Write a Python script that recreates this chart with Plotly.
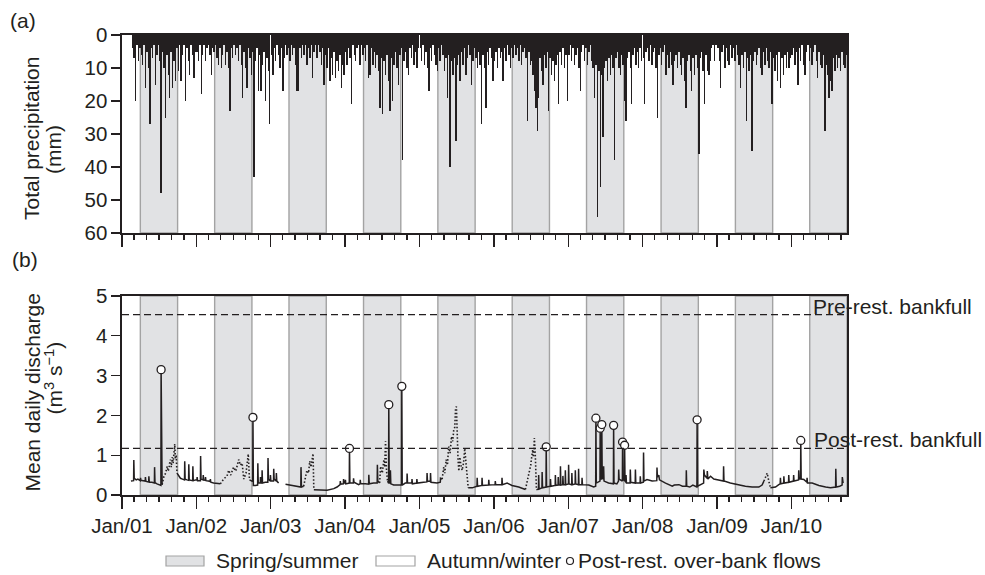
import plotly.graph_objects as go
import pandas as pd

# ---------------- DATA ----------------
# Weekly precipitation (mm), week i starts Jan 1 + 7*i days
precip_2001 = [None, None, None, None, None, None, None, 4, 7, 20, 3, 8, 4, 6, 9, 3, 16, 5, 10, 27, 4, 7, 3, 15, 6, 3,
               8, 48, 5, 10, 25, 6, 12, 19, 5, 16, 8, 14, 4, 11, 3, 14, 6, 3, 20, 4, 8, 12, 3, 6, 13, 5]
precip_2002 = [5, 8, 3, 18, 6, 3, 8, 4, 3, 6, 12, 4, 5, 3, 7, 9, 4, 10, 6, 3, 9, 5, 10, 23, 4, 7,
               3, 6, 4, 8, 3, 9, 19, 5, 10, 16, 4, 7, 12, 5, 43, 8, 4, 17, 6, 17, 9, 5, 20, 7, 11, 27]
precip_2003 = [6, 12, 4, 8, 3, 6, 10, 4, 17, 7, 3, 6, 4, 8, 3, 6, 4, 9, 17, 17, 4, 7, 3, 6, 3, 9,
               4, 7, 3, 13, 5, 3, 7, 3, 5, 9, 4, 15, 6, 10, 4, 14, 7, 12, 5, 13, 8, 11, 6, 16, 9, 12]
precip_2004 = [5, 9, 4, 7, 21, 3, 6, 8, 4, 3, 9, 3, 6, 4, 8, 3, 13, 12, 4, 9, 5, 10, 6, 11, 22, 7,
               24, 8, 12, 6, 14, 23, 7, 20, 9, 5, 10, 15, 6, 4, 38, 8, 5, 10, 12, 4, 7, 3, 9, 5, 10, 4]
precip_2005 = [4, 8, 3, 9, 5, 10, 17, 4, 8, 3, 6, 9, 11, 4, 8, 3, 6, 11, 7, 19, 6, 40, 8, 12, 7, 32,
               9, 6, 14, 5, 9, 4, 12, 7, 3, 6, 15, 8, 4, 7, 10, 5, 9, 27, 6, 10, 22, 5, 9, 4, 7, 14]
precip_2006 = [8, 5, 10, 4, 7, 5, 14, 4, 8, 3, 6, 10, 4, 7, 3, 6, 4, 8, 3, 9, 5, 4, 7, 26, 5, 9,
               8, 12, 17, 22, 29, 19, 7, 11, 15, 6, 10, 5, 23, 7, 12, 8, 14, 9, 6, 21, 5, 9, 4, 10, 6, 20]
precip_2007 = [6, 3, 8, 4, 9, 6, 4, 10, 17, 5, 3, 8, 4, 9, 5, 3, 8, 10, 19, 9, 55, 11, 46, 12, 31, 10,
               8, 14, 7, 12, 6, 10, 38, 7, 5, 10, 12, 6, 9, 20, 26, 7, 5, 10, 21, 6, 4, 9, 5, 10, 4, 8]
precip_2008 = [7, 21, 5, 4, 8, 3, 9, 5, 4, 10, 25, 6, 4, 9, 5, 3, 12, 6, 10, 5, 9, 15, 8, 6, 10, 5,
               9, 12, 7, 14, 22, 8, 6, 11, 17, 7, 12, 6, 10, 36, 7, 5, 11, 21, 6, 11, 12, 8, 4, 3, 8, 3]
precip_2009 = [4, 8, 16, 5, 3, 10, 4, 8, 9, 3, 7, 4, 8, 3, 6, 9, 16, 6, 10, 5, 26, 7, 11, 6, 35, 8,
               5, 9, 6, 4, 10, 12, 5, 9, 4, 8, 10, 5, 21, 7, 11, 6, 14, 5, 16, 7, 12, 6, 10, 5, 10, 7]
precip_2010 = [6, 4, 9, 5, 15, 4, 8, 3, 9, 12, 5, 3, 8, 4, 9, 5, 3, 8, 13, 5, 9, 10, 6, 29, 9, 12,
               19, 14, 17, 7, 11, 6, 10, 7, 11, 5, 9, 10, 6]
precip_years = [2001, 2002, 2003, 2004, 2005, 2006, 2007, 2008, 2009, 2010]

# Measured mean daily discharge (date, m3/s); (None, None) marks a gap in the record
q_obs = [
    ("2001-02-14", 0.35), ("2001-02-26", 0.37), ("2001-02-27", 0.36), ("2001-02-28", 0.88), ("2001-03-02", 0.42),
    ("2001-03-12", 0.38), ("2001-03-20", 0.40), ("2001-04-01", 0.36), ("2001-04-02", 0.43), ("2001-04-04", 0.37),
    ("2001-04-15", 0.36), ("2001-04-25", 0.35), ("2001-04-26", 0.45), ("2001-04-28", 0.35), ("2001-05-05", 0.33),
    ("2001-05-12", 0.33), ("2001-05-13", 0.47), ("2001-05-15", 0.32), ("2001-05-28", 0.32), ("2001-06-09", 0.30),
    ("2001-06-10", 0.70), ("2001-06-12", 0.31), ("2001-06-22", 0.28), ("2001-07-05", 0.25), ("2001-07-11", 0.24),
    ("2001-07-12", 3.15), ("2001-07-14", 0.30), ("2001-07-17", 0.26), (None, None),
    ("2001-09-28", 0.55), ("2001-10-06", 0.50), ("2001-10-15", 0.42), ("2001-10-25", 0.40), ("2001-11-04", 0.38),
    ("2001-11-05", 0.85), ("2001-11-07", 0.40), ("2001-11-16", 0.38), ("2001-11-24", 0.37), ("2001-11-25", 0.77),
    ("2001-11-27", 0.38), ("2001-12-05", 0.37), ("2001-12-14", 0.36), ("2001-12-15", 0.72), ("2001-12-17", 0.36),
    ("2001-12-28", 0.38), ("2002-01-04", 0.38), ("2002-01-05", 0.45), ("2002-01-07", 0.36), ("2002-01-21", 0.36),
    ("2002-01-22", 0.98), ("2002-01-24", 0.40), ("2002-02-03", 0.38), ("2002-02-04", 0.50), ("2002-02-06", 0.38),
    ("2002-02-14", 0.37), ("2002-02-15", 0.45), ("2002-02-17", 0.36), ("2002-03-01", 0.35), ("2002-03-10", 0.34),
    ("2002-03-11", 0.40), ("2002-03-13", 0.32), ("2002-03-27", 0.30), ("2002-04-15", 0.28), ("2002-04-29", 0.28),
    (None, None),
    ("2002-09-19", 0.38), ("2002-09-28", 0.36), ("2002-10-05", 0.34), ("2002-10-06", 1.95), ("2002-10-08", 0.24),
    ("2002-10-18", 0.24), ("2002-10-29", 0.25), ("2002-10-30", 0.80), ("2002-11-01", 0.30), ("2002-11-11", 0.30),
    ("2002-11-12", 0.45), ("2002-11-14", 0.30), ("2002-11-19", 0.30), ("2002-11-20", 0.62), ("2002-11-22", 0.30),
    ("2002-12-05", 0.32), ("2002-12-18", 0.32), ("2002-12-19", 0.93), ("2002-12-21", 0.40), ("2002-12-30", 0.35),
    ("2002-12-31", 0.50), ("2003-01-02", 0.35), ("2003-01-15", 0.35), ("2003-01-16", 0.66), ("2003-01-18", 0.40),
    ("2003-01-28", 0.35), ("2003-01-29", 0.55), ("2003-01-31", 0.35), ("2003-02-09", 0.30), (None, None),
    ("2003-03-15", 0.27), ("2003-04-08", 0.25), ("2003-05-03", 0.22), ("2003-05-29", 0.20), ("2003-05-30", 0.70),
    ("2003-06-01", 0.20), ("2003-06-12", 0.22), (None, None),
    ("2003-08-01", 0.13), ("2003-09-02", 0.12), ("2003-10-05", 0.12), ("2003-11-07", 0.16), ("2003-11-23", 0.20),
    ("2003-12-08", 0.26), ("2003-12-09", 0.35), ("2003-12-11", 0.27), ("2003-12-24", 0.28), ("2003-12-25", 0.40),
    ("2003-12-27", 0.30), ("2004-01-02", 0.30), ("2004-01-03", 0.38), ("2004-01-05", 0.28), ("2004-01-22", 0.30),
    ("2004-01-23", 1.17), ("2004-01-25", 0.30), ("2004-02-11", 0.30), ("2004-02-12", 0.42), ("2004-02-14", 0.32),
    ("2004-03-08", 0.26), ("2004-03-15", 0.28), ("2004-03-16", 0.38), ("2004-03-18", 0.28), ("2004-04-10", 0.28),
    ("2004-04-26", 0.27), ("2004-04-27", 0.51), ("2004-04-29", 0.28), ("2004-05-21", 0.30), ("2004-06-07", 0.30),
    ("2004-06-08", 0.76), ("2004-06-10", 0.35), ("2004-06-19", 0.30), (None, None),
    ("2004-07-28", 0.35), ("2004-08-02", 0.30), ("2004-08-03", 2.27), ("2004-08-05", 0.30), ("2004-08-10", 0.30),
    ("2004-08-11", 0.62), ("2004-08-13", 0.28), ("2004-08-27", 0.25), ("2004-09-21", 0.24), ("2004-10-05", 0.25),
    ("2004-10-06", 2.73), ("2004-10-08", 0.25), ("2004-10-23", 0.30), ("2004-10-31", 0.30), ("2004-11-01", 0.54),
    ("2004-11-03", 0.30), ("2004-11-24", 0.30), ("2004-11-25", 0.40), ("2004-11-27", 0.28), ("2004-12-18", 0.30),
    ("2004-12-19", 0.40), ("2004-12-21", 0.30), ("2005-01-21", 0.32), ("2005-02-06", 0.33), ("2005-02-07", 0.55),
    ("2005-02-09", 0.35), ("2005-02-23", 0.34), ("2005-02-24", 0.55), ("2005-02-26", 0.32), ("2005-03-28", 0.30),
    ("2005-04-13", 0.32), ("2005-04-14", 0.42), ("2005-04-22", 0.40), (None, None),
    ("2005-08-28", 0.18), ("2005-09-17", 0.18), ("2005-10-10", 0.22), ("2005-10-11", 0.43), ("2005-10-13", 0.22),
    ("2005-11-03", 0.24), ("2005-11-04", 0.43), ("2005-11-06", 0.24), ("2005-12-06", 0.25), ("2005-12-07", 0.38),
    ("2005-12-09", 0.25), ("2006-01-07", 0.26), ("2006-01-08", 0.35), ("2006-01-10", 0.26), ("2006-02-09", 0.26),
    ("2006-02-10", 0.43), ("2006-02-12", 0.26), ("2006-03-07", 0.30), ("2006-03-31", 0.24), ("2006-05-03", 0.20),
    ("2006-06-05", 0.14), (None, None),
    ("2006-07-29", 0.13), ("2006-08-08", 0.15), ("2006-08-09", 0.50), ("2006-08-11", 0.15), ("2006-08-25", 0.18),
    ("2006-08-26", 0.58), ("2006-08-28", 0.18), ("2006-09-14", 0.20), ("2006-09-15", 1.21), ("2006-09-17", 0.20),
    ("2006-10-05", 0.22), ("2006-10-06", 0.40), ("2006-10-08", 0.22), ("2006-10-29", 0.24), ("2006-10-30", 0.50),
    ("2006-11-01", 0.24), ("2006-11-12", 0.25), ("2006-11-13", 0.45), ("2006-11-15", 0.25), ("2006-11-23", 0.25),
    ("2006-11-24", 0.72), ("2006-11-26", 0.25), ("2006-12-05", 0.26), ("2006-12-06", 0.48), ("2006-12-08", 0.26),
    ("2006-12-17", 0.26), ("2006-12-18", 0.62), ("2006-12-20", 0.26), ("2007-01-02", 0.28), ("2007-01-03", 0.76),
    ("2007-01-05", 0.28), ("2007-01-18", 0.26), ("2007-01-19", 0.55), ("2007-01-21", 0.26), ("2007-02-04", 0.28),
    ("2007-02-05", 0.62), ("2007-02-07", 0.28), ("2007-02-20", 0.26), ("2007-02-21", 0.66), ("2007-02-23", 0.26),
    ("2007-03-09", 0.26), ("2007-03-10", 0.43), ("2007-03-12", 0.26), ("2007-04-12", 0.25), ("2007-05-06", 0.20),
    ("2007-05-16", 0.22), ("2007-05-17", 1.93), ("2007-05-19", 0.30), ("2007-06-06", 0.35), ("2007-06-07", 1.68),
    ("2007-06-09", 0.40), ("2007-06-14", 0.40), ("2007-06-15", 1.77), ("2007-06-17", 0.45), ("2007-06-23", 0.40),
    ("2007-06-24", 0.72), ("2007-06-26", 0.35), ("2007-07-18", 0.30), ("2007-08-11", 0.28), ("2007-08-12", 1.75),
    ("2007-08-14", 0.30), ("2007-08-28", 0.28), ("2007-09-05", 0.35), ("2007-09-06", 0.64), ("2007-09-08", 0.40),
    ("2007-09-24", 0.35), ("2007-09-25", 1.33), ("2007-09-27", 0.40), ("2007-10-04", 0.36), ("2007-10-05", 1.25),
    ("2007-10-07", 0.35), ("2007-10-11", 0.32), ("2007-10-12", 0.50), ("2007-10-14", 0.30), ("2007-11-01", 0.30),
    ("2007-11-02", 0.64), ("2007-11-04", 0.32), ("2007-11-26", 0.30), ("2007-11-27", 0.64), ("2007-11-29", 0.30),
    ("2007-12-20", 0.30), ("2007-12-21", 0.47), ("2007-12-23", 0.30), ("2008-01-05", 0.32), ("2008-01-06", 1.07),
    ("2008-01-08", 0.35), ("2008-01-23", 0.39), ("2008-02-17", 0.35), ("2008-03-11", 0.36), ("2008-03-12", 0.69),
    ("2008-03-14", 0.45), ("2008-03-21", 0.50), ("2008-03-24", 0.38), ("2008-04-23", 0.30), ("2008-05-26", 0.22),
    ("2008-06-05", 0.25), ("2008-06-28", 0.26), ("2008-07-15", 0.22), ("2008-08-02", 0.22), ("2008-08-03", 0.62),
    ("2008-08-05", 0.22), ("2008-08-20", 0.20), ("2008-09-04", 0.25), ("2008-09-24", 0.20), ("2008-09-25", 1.89),
    ("2008-09-27", 0.22), ("2008-10-27", 0.30), ("2008-10-28", 0.64), ("2008-10-31", 0.50), ("2008-11-13", 0.42),
    ("2008-11-14", 0.60), ("2008-11-17", 0.40), ("2008-11-30", 0.47), ("2008-12-16", 0.40), ("2009-01-09", 0.38),
    ("2009-02-01", 0.35), ("2009-02-02", 0.72), ("2009-02-04", 0.35), ("2009-03-07", 0.30), ("2009-04-17", 0.25),
    ("2009-05-20", 0.22), ("2009-06-22", 0.20), ("2009-07-25", 0.20), ("2009-08-10", 0.25), ("2009-08-19", 0.35),
    (None, None),
    ("2009-09-20", 0.18), ("2009-10-15", 0.20), ("2009-10-31", 0.26), ("2009-11-07", 0.28), ("2009-11-08", 0.43),
    ("2009-11-10", 0.28), ("2009-11-24", 0.30), ("2009-11-25", 0.47), ("2009-11-27", 0.30), ("2009-12-18", 0.32),
    ("2009-12-19", 0.50), ("2009-12-21", 0.32), ("2010-01-11", 0.35), ("2010-01-12", 0.50), ("2010-01-14", 0.35),
    ("2010-02-05", 0.38), ("2010-02-06", 0.62), ("2010-02-08", 0.40), ("2010-02-15", 0.40), ("2010-02-16", 1.37),
    ("2010-02-18", 0.40), ("2010-03-03", 0.39), ("2010-03-18", 0.32), ("2010-03-19", 0.43), ("2010-03-21", 0.30),
    ("2010-04-13", 0.30), ("2010-05-16", 0.24), ("2010-06-18", 0.20), ("2010-07-12", 0.18), ("2010-08-06", 0.20),
    ("2010-08-07", 0.66), ("2010-08-09", 0.20), ("2010-08-26", 0.22), ("2010-09-07", 0.25), ("2010-09-08", 0.45),
    ("2010-09-12", 0.30),
]

# Estimated (gap-filled) discharge, drawn dotted
e_obs = [
    ("2001-07-17", 0.26), ("2001-07-25", 0.45), ("2001-08-03", 0.55), ("2001-08-11", 0.72), ("2001-08-15", 0.60),
    ("2001-08-19", 0.65), ("2001-08-23", 0.80), ("2001-08-27", 0.89), ("2001-08-31", 0.70), ("2001-09-05", 0.95),
    ("2001-09-09", 0.80), ("2001-09-13", 1.10), ("2001-09-17", 1.28), ("2001-09-20", 0.90), ("2001-09-24", 1.00),
    ("2001-09-28", 0.55), (None, None),
    ("2002-04-29", 0.28), ("2002-05-15", 0.40), ("2002-06-01", 0.48), ("2002-06-09", 0.62), ("2002-06-19", 0.50),
    ("2002-07-03", 0.70), ("2002-07-14", 0.60), ("2002-07-28", 0.89), ("2002-08-05", 0.75), ("2002-08-14", 0.80),
    ("2002-08-22", 0.40), ("2002-09-02", 0.55), ("2002-09-13", 1.03), ("2002-09-19", 0.38), (None, None),
    ("2003-06-12", 0.22), ("2003-06-21", 0.45), ("2003-06-28", 0.62), ("2003-07-06", 0.55), ("2003-07-12", 0.85),
    ("2003-07-18", 0.70), ("2003-07-28", 1.04), ("2003-08-01", 0.13), (None, None),
    ("2004-06-19", 0.30), ("2004-06-24", 0.72), ("2004-07-02", 0.55), ("2004-07-10", 0.89), ("2004-07-14", 0.70),
    ("2004-07-18", 1.35), ("2004-07-23", 0.60), ("2004-07-28", 0.35), (None, None),
    ("2005-04-22", 0.40), ("2005-04-30", 0.70), ("2005-05-05", 0.55), ("2005-05-12", 0.89), ("2005-05-18", 0.75),
    ("2005-05-24", 1.22), ("2005-05-31", 1.05), ("2005-06-07", 1.47), ("2005-06-13", 1.35), ("2005-06-18", 1.64),
    ("2005-06-23", 1.70), ("2005-06-27", 2.18), ("2005-07-01", 2.22), ("2005-07-04", 1.40), ("2005-07-09", 0.90),
    ("2005-07-13", 0.60), ("2005-07-18", 0.95), ("2005-07-23", 0.75), ("2005-07-29", 0.62), ("2005-08-05", 0.80),
    ("2005-08-11", 1.17), ("2005-08-18", 0.75), ("2005-08-23", 0.45), ("2005-08-28", 0.18), (None, None),
    ("2006-06-05", 0.14), ("2006-06-21", 0.47), ("2006-07-01", 0.75), ("2006-07-04", 0.89), ("2006-07-11", 1.14),
    ("2006-07-14", 0.95), ("2006-07-19", 1.43), ("2006-07-24", 0.93), ("2006-07-29", 0.13), (None, None),
    ("2009-08-19", 0.35), ("2009-08-27", 0.45), ("2009-09-04", 0.55), ("2009-09-12", 0.35), ("2009-09-20", 0.18),
]

# Post-restoration over-bank flows
ob_dates = ["2001-07-12", "2002-10-06", "2004-01-23", "2004-08-03", "2004-10-06", "2006-09-15", "2007-05-17",
            "2007-06-07", "2007-06-15", "2007-08-12", "2007-09-25", "2007-10-05", "2008-09-25", "2010-02-16"]
ob_vals = [3.15, 1.95, 1.17, 2.27, 2.73, 1.21, 1.93, 1.68, 1.77, 1.75, 1.33, 1.25, 1.89, 1.37]

pre_bankfull = 4.53
post_bankfull = 1.17

season_start = ["2001-04-01", "2002-04-01", "2003-04-01", "2004-04-01", "2005-04-01",
                "2006-04-01", "2007-04-01", "2008-04-01", "2009-04-01", "2010-04-01"]
season_end = ["2001-10-01", "2002-10-01", "2003-10-01", "2004-10-01", "2005-10-01",
              "2006-10-01", "2007-10-01", "2008-10-01", "2009-10-01", "2010-10-01"]

x_range = ["2001-01-01", "2010-10-01"]

# ---------------- BUILD ----------------
INK = "#231f20"
FONT = "Liberation Sans, Arial, Helvetica, sans-serif"
BAND_FILL = "#e1e2e4"
BAND_LINE = "#a3a3a3"

precip_lists = [precip_2001, precip_2002, precip_2003, precip_2004, precip_2005,
                precip_2006, precip_2007, precip_2008, precip_2009, precip_2010]
p_x, p_y = [], []
for yr, vals in zip(precip_years, precip_lists):
    start = pd.Timestamp(f"{yr}-01-01")
    for i, v in enumerate(vals):
        p_x.append(start + pd.Timedelta(days=7 * i + 3.5))
        p_y.append(v)

q_dates = [d for d, _ in q_obs]
q_vals = [v for _, v in q_obs]
e_dates = [d for d, _ in e_obs]
e_vals = [v for _, v in e_obs]

WEEK_MS = 7 * 24 * 3600 * 1000

fig = go.Figure()
fig.add_trace(go.Bar(x=p_x, y=p_y, width=WEEK_MS, marker=dict(color=INK, line=dict(width=0)),
                     xaxis="x2", yaxis="y2", showlegend=False, hoverinfo="skip"))
fig.add_trace(go.Scatter(x=e_dates, y=e_vals, mode="lines", line=dict(color=INK, width=1.6, dash="1.5px,2px"),
                         connectgaps=False, showlegend=False))
fig.add_trace(go.Scatter(x=q_dates, y=q_vals, mode="lines", line=dict(color=INK, width=1.5),
                         connectgaps=False, showlegend=False))
fig.add_trace(go.Scatter(x=ob_dates, y=ob_vals, mode="markers",
                         marker=dict(symbol="circle", size=8, color="white", line=dict(color=INK, width=1.3)),
                         showlegend=False))

shapes = []
for s, e in zip(season_start, season_end):
    for xr, yr in (("x", "y domain"), ("x2", "y2 domain")):
        shapes.append(dict(type="rect", xref=xr, yref=yr, x0=s, x1=e, y0=0, y1=1,
                           fillcolor=BAND_FILL, line=dict(color=BAND_LINE, width=1.4), layer="below"))
for lvl in (pre_bankfull, post_bankfull):
    shapes.append(dict(type="line", xref="x domain", yref="y", x0=0, x1=1, y0=lvl, y1=lvl,
                       line=dict(color=INK, width=1.3, dash="7px,4px")))

# pixel helpers for the hand-placed legend and labels
W, H_TOP, MB = 725.0, 35.0, 80.0
PH = 575 - H_TOP - MB


def px_x(px):
    return (px - 122) / W


def px_y(py):
    return (575 - MB - py) / PH


shapes.append(dict(type="rect", xref="paper", yref="paper", x0=px_x(166), x1=px_x(204), y0=px_y(566), y1=px_y(556),
                   fillcolor=BAND_FILL, line=dict(color=BAND_LINE, width=1.2)))
shapes.append(dict(type="rect", xref="paper", yref="paper", x0=px_x(376), x1=px_x(415), y0=px_y(566), y1=px_y(556),
                   fillcolor="white", line=dict(color=BAND_LINE, width=1.2)))
shapes.append(dict(type="circle", xref="paper", yref="paper", x0=px_x(566.5), x1=px_x(573.5), y0=px_y(564.5),
                   y1=px_y(557.5), fillcolor="white", line=dict(color=INK, width=1.2)))

tf = dict(family=FONT, size=21, color=INK)


def ann(text, x, y, anchor="left", angle=0):
    return dict(text=text, xref="paper", yref="paper", x=px_x(x), y=px_y(y), xanchor=anchor, yanchor="middle",
                showarrow=False, font=tf, textangle=angle)


annotations = [
    ann("Spring/summer", 214, 560),
    ann("Autumn/winter", 425, 560),
    ann("Post-rest. over-bank flows", 576, 560),
    ann("Pre-rest. bankfull", 811, 307),
    ann("Post-rest. bankfull", 812, 439),
    ann("(a)", 23, 20, "center"),
    ann("(b)", 25, 259, "center"),
    ann("Total precipitation", 31.5, 138.5, "center", -90),
    ann("(mm)", 53, 150, "center", -90),
    ann("Mean daily discharge", 31.5, 393, "center", -90),
    ann("(m<sup>3</sup> s<sup>−1</sup>)", 53, 378.5, "center", -90),
]

tickfont = dict(family=FONT, size=20.5, color=INK)
xcommon = dict(type="date", range=x_range, dtick="M12", tick0="2001-01-01", tickformat="%b/%y",
               ticks="outside", ticklen=12, tickwidth=1.4, tickcolor=INK,
               showline=True, linewidth=1.6, linecolor=INK, mirror=True, showgrid=False, zeroline=False,
               minor=dict(dtick="M2", tick0="2001-01-01", ticks="outside", ticklen=5, tickwidth=1.3,
                          tickcolor=INK, showgrid=False))
ycommon = dict(ticks="outside", ticklen=9, tickwidth=1.4, tickcolor=INK, showline=True, linewidth=1.6,
               linecolor=INK, mirror=True, showgrid=False, zeroline=False, tickfont=tickfont)

fig.update_layout(
    width=985, height=575,
    margin=dict(l=122, r=138, t=35, b=80),
    paper_bgcolor="white", plot_bgcolor="white",
    font=dict(family=FONT, color=INK),
    showlegend=False,
    hovermode=False,
    xaxis=dict(anchor="y", domain=[0, 1], tickfont=tickfont, **xcommon),
    xaxis2=dict(anchor="y2", domain=[0, 1], matches="x", showticklabels=False, **xcommon),
    yaxis=dict(anchor="x", domain=[0, px_y(296)], range=[0, 5], dtick=1, **ycommon),
    yaxis2=dict(anchor="x2", domain=[px_y(233), 1], range=[60, 0], dtick=10, **ycommon),
    shapes=shapes,
    annotations=annotations,
    bargap=0,
)

fig.write_html("out.html", config={"displayModeBar": False, "staticPlot": True},
               post_script="document.body.style.margin='0';document.body.style.overflow='hidden';")
